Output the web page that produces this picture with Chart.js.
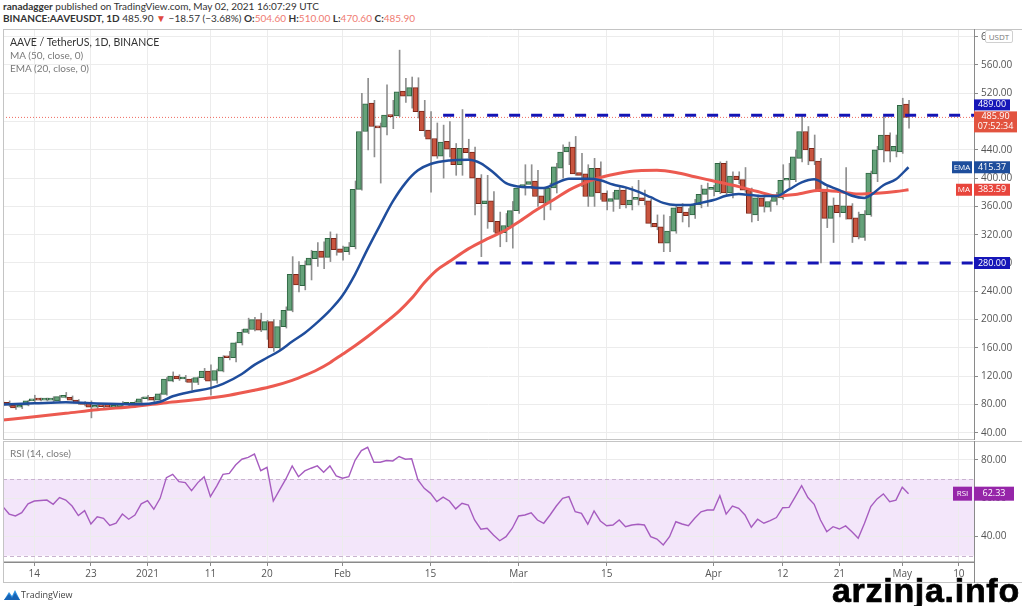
<!DOCTYPE html>
<html>
<head>
<meta charset="utf-8">
<script src="https://cdn.jsdelivr.net/npm/chart.js@4.4.0/dist/chart.umd.min.js"></script>
<style>
  body { margin: 0; background: #fff; width: 1024px; height: 606px; position: relative; overflow: hidden; font-family: 'Open Sans', sans-serif; }
  canvas { position: absolute; left: 0; }
  .txt { position: absolute; white-space: nowrap; }
  .hdr { left: 3px; font-size: 10px; line-height: 12px; color: #333; font-family: Lato, sans-serif; }
  .red { color: #ef7b72; }
  .leg { left: 10px; font-size: 10px; line-height: 13px; color: #7a7a7a; font-family: Lato, sans-serif; }
</style>
</head>
<body>
<div class="txt hdr" style="top:0px"><b>ranadagger</b> published on TradingView.com, May 02, 2021 16:07:29 UTC</div>
<div class="txt hdr" style="top:12px"><b>BINANCE:AAVEUSDT, 1D</b> 485.90 <span style="color:#e0483e">&#9660;</span> &minus;18.57 (&minus;3.68%) <b>O:</b><span class="red">504.60</span> <b>H:</b><span class="red">510.00</span> <b>L:</b><span class="red">470.60</span> <b>C:</b><span class="red">485.90</span></div>

<canvas id="price" width="1024" height="411" style="top:29px"></canvas>
<canvas id="rsi" width="1024" height="142" style="top:441px"></canvas>

<div class="txt leg" style="top:36px;color:#333;font-size:10.5px">AAVE / TetherUS, 1D, BINANCE</div>
<div class="txt leg" style="top:49px">MA (50, close, 0)</div>
<div class="txt leg" style="top:62px">EMA (20, close, 0)</div>
<div class="txt" style="left:985px;top:30px;width:26px;height:11px;border:1px solid #d0d0d0;border-radius:2px;background:#fff;font-size:8px;line-height:11px;color:#777;text-align:center">USDT</div>
<div class="txt leg" style="top:447px">RSI (14, close)</div>

<svg class="txt" style="left:4px;top:589px" width="16" height="12" viewBox="0 0 16 12">
  <path d="M0 11 L5 3 L8 7 L11 1 L16 11 Z" fill="#2d8fe0"/>
  <path d="M0 11 L5 5 L8 9 L11 4 L16 11 Z" fill="#1763b5"/>
</svg>
<div class="txt" style="left:21px;top:589px;font-size:9px;line-height:12px;color:#444">TradingView</div>
<div class="txt" style="left:832px;top:570px;font-family:'Liberation Sans Narrow',sans-serif;font-weight:bold;font-size:34px;line-height:40px;letter-spacing:0.7px;color:#000;-webkit-text-stroke:0.7px #000">arzinja.info</div>

<script>
// daily candles, Dec 9 2020 (day -5) .. May 2 2021 (day 139); day 0 = Dec 14
const firstDay = -5;
const opens = [80,83,79,76,79,85,87,86,86,85,90,90,86,83,83,76,78,80,76,77,80,79,83,88,90,86,94,113,120,116,116,111,118,127,114,127,147,146,167,182,186,200,185,197,160,190,213,264,248,277,286,297,288,315,300,296,303,384,466,506,474,472,489,488,523,516,528,495,468,456,431,452,442,419,442,437,400,364,368,339,323,331,354,387,391,396,375,365,386,414,437,444,408,406,374,414,379,367,370,383,362,370,372,368,336,331,308,325,359,352,348,362,377,384,381,421,379,403,398,383,348,372,359,367,372,397,398,428,466,442,424,381,343,362,351,361,344,316,348,406,440,461,438,437,504.6];
const highs = [85,85,80,80,86,93,89,89,91,93,97,92,87,84,85,80,80,81,79,84,82,85,90,93,91,96,118,126,122,121,117,119,131,136,130,149,155,168,186,202,203,209,199,200,199,218,289,282,283,298,309,310,324,321,304,309,396,520,541,510,478,532,510,581,541,543,542,510,494,478,475,480,449,497,455,444,405,404,381,352,350,367,390,419,419,411,386,393,421,447,451,459,435,419,428,423,382,380,388,386,388,397,383,370,348,348,346,362,364,357,370,390,393,390,423,424,409,409,415,386,376,375,369,380,419,421,440,489,473,461,428,390,372,379,415,364,352,354,410,445,487,464,461,513,510];
const lows = [78,77,73,74,78,84,85,85,84,84,89,85,80,78,61,72,74,74,74,76,77,78,82,86,84,85,93,112,114,112,100,108,115,93,110,126,143,140,164,180,184,183,172,155,157,188,211,239,242,256,275,272,282,291,284,292,300,383,440,430,393,461,470,487,507,499,485,459,380,428,400,430,404,404,428,348,289,329,324,303,310,301,350,376,385,360,341,355,379,400,419,404,388,360,360,370,355,353,357,358,355,362,362,331,327,296,296,322,338,331,343,358,360,375,378,375,372,392,380,338,340,352,353,362,370,385,395,423,419,419,280,330,309,345,342,309,314,312,346,395,423,423,430,435,470.6];
const closes = [83,79,75,79,85,87,86,87,88,91,91,86,82,80,76,78,77,76,77,80,80,83,88,90,86,95,116,120,116,116,111,118,127,113,128,147,146,167,182,187,200,185,197,160,190,213,264,249,277,287,297,288,315,299,295,303,384,466,505,473,471,489,487,522,516,528,494,467,455,431,451,441,419,442,436,400,364,368,338,322,333,354,386,391,395,374,365,386,416,437,444,406,404,374,414,379,367,371,383,362,369,370,368,336,331,308,325,358,351,347,362,377,385,384,421,379,403,398,383,350,372,360,367,374,397,398,430,466,440,424,381,343,361,351,361,342,317,349,407,440,461,438,445,503,485.9];
const rsiValues = [55.6,51.7,50.7,52.4,57,58.5,58.8,59,56.8,60.3,59,55.9,50.9,53.5,46.5,50.3,49.5,45.8,46.9,51.7,49,51.2,57,58.7,54.2,59.9,70.7,72.4,68.6,68.1,63.9,68.1,71.2,60.8,66.3,72.4,72.9,77.3,80.3,81.3,83,74.3,76.1,58.5,64.3,70,76.8,71.2,74.2,75.6,76.8,73.5,76.8,71.6,70.4,71.2,79.7,84.8,86.5,78.7,78.7,79.6,79.4,81.7,80.3,80.5,69.5,65.1,62.5,58.2,60.5,58.5,54.4,57.3,56.4,48.6,43.8,44.3,40.8,37.8,39.9,44.3,50.7,51.2,52.4,48.6,46.9,51.2,55.9,59.9,60.8,52.9,52.1,46.4,53.3,48.1,45.6,46,48.6,45.1,46,46.4,46,39.9,38.7,35.6,39.9,47.7,46.5,45.6,49.5,52.9,53.8,53.8,61.3,51.7,55.9,54.7,51.2,44.8,49,46.9,48.3,49.9,55,55.2,60.8,66.5,60.3,56.8,48.6,42.5,45.1,43.9,45.5,42.5,39.1,46.9,55.6,59.6,62.2,58.2,59,65.7,62.33];

// indicator lines
const emaDays = [-5,0,5,9,16,20,22,25,28,30,33,35,37,39,41,43,45,47,49,51,53,55,57,59,61,63,66,69,71,73,75,77,79,81,83,85,88,90,92,94,96,98,100,102,104,106,108,110,112,114,116,118,120,122,124,126,128,130,132,133,135,137,139];
const emaValues = [80,81.5,83,81.6,80.2,83.8,91.5,98,103,109,123,136,146,156,169,181,196,213,234,264,300,334,367,393,411,420,425,426,421,408,393,388,387,386,393,399,399,397,391,387,381,373,365,362,362,365,369,375,377.5,376,374.7,374.7,384,394,398.4,390,383,375,372,376,390,398.4,415.37];
const maDays = [-5,0,5,10,16,21,26,31,35,38,41,43,45,47,49,51,53,55,58,60,62,64,66,69,72,75,77,80,83,85,88,90,93,96,99,102,105,108,112,115,118,121,125,128,131,134,137,139];
const maValues = [58,62.6,67.4,72.5,77.2,82.5,87,93,100,106,114,121,129,139,151,163,176,190,212,230,252,270,282,300,314,326.7,338,356,372,383,395,401,407,410.5,411,408,402,396,388,381,375,377,383,381,377.5,378.6,381,383.59];

// horizontal levels and latest readings
const resistance = 489, resistanceFrom = 65;
const support = 280, supportFrom = 67;
const lastPrice = 485.90, lastEma = 415.37, lastMa = 383.59, lastRsi = 62.33;
const countdown = '07:52:34';

// axes
const tickDays = [0, 9, 18, 28, 37, 49, 63, 77, 91, 108, 119, 128, 138, 147];
const tickLabels = ['14', '23', '2021', '11', '20', 'Feb', '15', 'Mar', '15', 'Apr', '12', '21', 'May', '10'];
const priceTicks = [40, 80, 120, 160, 200, 240, 280, 320, 360, 400, 440, 480, 520, 560, 600];
const rsiTicks = [40, 60, 80];
const rsiBand = [30, 70];

Chart.defaults.font.family = "'Open Sans', sans-serif";
Chart.defaults.font.size = 10;
Chart.defaults.color = '#555';

const xMin = -4.98, xMax = 149.41;
const days = opens.map((_, i) => firstDay + i);
const up = days.map((_, i) => closes[i] >= opens[i]);

function xAxis(showLabels) {
  return {
    type: 'linear', min: xMin, max: xMax, offset: false,
    afterBuildTicks: s => { s.ticks = tickDays.map(v => ({ value: v })); },
    afterFit: s => { s.height = showLabels ? 21 : 0; s.paddingLeft = 0; s.paddingRight = 0; },
    grid: { color: '#ececec', offset: false, drawTicks: showLabels, tickLength: 4, tickColor: '#8a8a8a' },
    border: { display: showLabels, color: '#8a8a8a' },
    ticks: { display: showLabels, autoSkip: false, maxRotation: 0, padding: 2, color: '#555',
      callback: v => tickLabels[tickDays.indexOf(v)] }
  };
}

function yAxis(min, max, list) {
  return {
    position: 'right', min: min, max: max,
    afterBuildTicks: s => { s.ticks = list.map(v => ({ value: v })); },
    afterFit: s => { s.width = 50; s.paddingTop = 0; s.paddingBottom = 0; },
    grid: { color: '#ececec', tickLength: 4, tickColor: '#8a8a8a' },
    border: { color: '#8a8a8a' },
    ticks: { padding: 3, color: '#555', callback: v => v.toFixed(2) }
  };
}

// filled label box on the price / rsi axis
function badge(ctx, x, top, w, h, bg, lines, size) {
  ctx.fillStyle = bg;
  ctx.fillRect(x, top, w, h);
  ctx.fillStyle = '#fff';
  ctx.font = (size || 9) + "px 'Open Sans', sans-serif";
  ctx.textAlign = 'center';
  ctx.textBaseline = 'middle';
  const step = 10;
  const y0 = top + h / 2 - (lines.length - 1) * step / 2;
  lines.forEach((t, i) => ctx.fillText(t, x + w / 2, y0 + i * step));
}

const frame = {
  id: 'frame',
  afterDraw(chart) {
    const ctx = chart.ctx, a = chart.chartArea;
    ctx.save();
    ctx.strokeStyle = '#c4c4c4';
    ctx.lineWidth = 1;
    ctx.beginPath();
    ctx.moveTo(3.5, a.top + 0.5); ctx.lineTo(1022, a.top + 0.5);
    ctx.moveTo(3.5, a.top); ctx.lineTo(3.5, chart.height);
    ctx.moveTo(3.5, a.bottom - 0.5); ctx.lineTo(a.right, a.bottom - 0.5);
    if (chart.canvas.id === 'rsi') {
      ctx.moveTo(3.5, chart.height - 0.5); ctx.lineTo(1022, chart.height - 0.5);
    }
    ctx.stroke();
    ctx.strokeStyle = '#8a8a8a';
    ctx.beginPath();
    ctx.moveTo(a.right + 0.5, a.top); ctx.lineTo(a.right + 0.5, chart.height);
    ctx.stroke();
    ctx.restore();
  }
};

const priceBadges = {
  id: 'priceBadges',
  afterDraw(chart) {
    const ctx = chart.ctx, y = chart.scales.y, x0 = chart.chartArea.right;
    ctx.save();
    const lastTop = y.getPixelForValue(lastPrice) - 6;
    badge(ctx, x0, lastTop, 43, 21, '#e2533f', [lastPrice.toFixed(2), countdown]);
    badge(ctx, x0, lastTop - 12, 36, 11, '#1616b8', [resistance.toFixed(2)]);
    const ye = y.getPixelForValue(lastEma) - 6;
    badge(ctx, x0 - 22, ye, 20, 12, '#1e4e9c', ['EMA'], 8);
    badge(ctx, x0, ye, 36, 12, '#1e4e9c', [lastEma.toFixed(2)]);
    const ym = y.getPixelForValue(lastMa) - 6;
    badge(ctx, x0 - 18, ym, 16, 12, '#e8453c', ['MA'], 8);
    badge(ctx, x0, ym, 36, 12, '#e8453c', [lastMa.toFixed(2)]);
    badge(ctx, x0, y.getPixelForValue(support) - 6, 36, 12, '#1616b8', [support.toFixed(2)]);
    ctx.restore();
  }
};

const rsiDecor = {
  id: 'rsiDecor',
  beforeDraw(chart) {
    const ctx = chart.ctx, y = chart.scales.y, a = chart.chartArea;
    ctx.save();
    ctx.fillStyle = '#f3e6fa';
    const t = y.getPixelForValue(rsiBand[1]), b = y.getPixelForValue(rsiBand[0]);
    ctx.fillRect(a.left, t, a.right - a.left, b - t);
    ctx.restore();
  },
  beforeDatasetsDraw(chart) {
    const ctx = chart.ctx, y = chart.scales.y, a = chart.chartArea;
    ctx.save();
    ctx.strokeStyle = '#c9b3cf';
    ctx.setLineDash([4, 3]);
    ctx.beginPath();
    rsiBand.forEach(v => {
      const py = Math.round(y.getPixelForValue(v)) + 0.5;
      ctx.moveTo(a.left, py); ctx.lineTo(a.right, py);
    });
    ctx.stroke();
    ctx.restore();
  },
  afterDraw(chart) {
    const ctx = chart.ctx, y = chart.scales.y, x0 = chart.chartArea.right;
    ctx.save();
    const yr = y.getPixelForValue(lastRsi) - 7;
    badge(ctx, x0 - 21, yr, 19, 14, '#9626a9', ['RSI'], 8);
    badge(ctx, x0, yr, 40, 14, '#9626a9', [lastRsi.toFixed(2)]);
    ctx.restore();
  }
};

new Chart(document.getElementById('price'), {
  type: 'bar',
  data: {
    datasets: [
      { type: 'line', data: [{ x: xMin, y: lastPrice }, { x: xMax, y: lastPrice }],
        borderColor: '#ef6a5e', borderWidth: 1, borderDash: [1, 2], pointRadius: 0, order: 6 },
      { data: days.map((d, i) => ({ x: d, y: [lows[i], highs[i]] })),
        backgroundColor: '#8f8f8f', barThickness: 1, minBarLength: 1, order: 5 },
      { data: days.map((d, i) => ({ x: d, y: [opens[i], closes[i]] })),
        backgroundColor: up.map(u => u ? '#65a27a' : '#c9553f'),
        borderColor: up.map(u => u ? '#2f6642' : '#7a2619'),
        borderWidth: 1, borderSkipped: false, barThickness: 5, minBarLength: 2, order: 4 },
      { type: 'line', data: maDays.map((d, i) => ({ x: d, y: maValues[i] })),
        borderColor: '#ec5a50', borderWidth: 3, pointRadius: 0, cubicInterpolationMode: 'monotone', order: 3 },
      { type: 'line', data: emaDays.map((d, i) => ({ x: d, y: emaValues[i] })),
        borderColor: '#1f4d9c', borderWidth: 2.5, pointRadius: 0, cubicInterpolationMode: 'monotone', order: 2 },
      { type: 'line', data: [{ x: resistanceFrom, y: resistance }, { x: xMax, y: resistance }],
        borderColor: '#1515b5', borderWidth: 3, borderDash: [11, 11], pointRadius: 0, order: 1 },
      { type: 'line', data: [{ x: supportFrom, y: support }, { x: xMax, y: support }],
        borderColor: '#1515b5', borderWidth: 3, borderDash: [11, 11], pointRadius: 0, order: 1 }
    ]
  },
  options: {
    responsive: false, animation: false, devicePixelRatio: 1, events: [],
    layout: { padding: { left: 3, top: 0, right: 0, bottom: 0 } },
    plugins: { legend: { display: false }, tooltip: { enabled: false } },
    scales: { x: xAxis(false), y: yAxis(29.7, 610.9, priceTicks) }
  },
  plugins: [frame, priceBadges]
});

new Chart(document.getElementById('rsi'), {
  type: 'line',
  data: {
    datasets: [
      { data: rsiValues.map((v, i) => ({ x: firstDay + i, y: v })),
        borderColor: '#a65cbf', borderWidth: 1.4, pointRadius: 0, tension: 0 }
    ]
  },
  options: {
    responsive: false, animation: false, devicePixelRatio: 1, events: [],
    layout: { padding: { left: 3, top: 0, right: 0, bottom: 0 } },
    plugins: { legend: { display: false }, tooltip: { enabled: false } },
    scales: { x: xAxis(true), y: yAxis(26.7, 89.8, rsiTicks) }
  },
  plugins: [frame, rsiDecor]
});
</script>
</body>
</html>
